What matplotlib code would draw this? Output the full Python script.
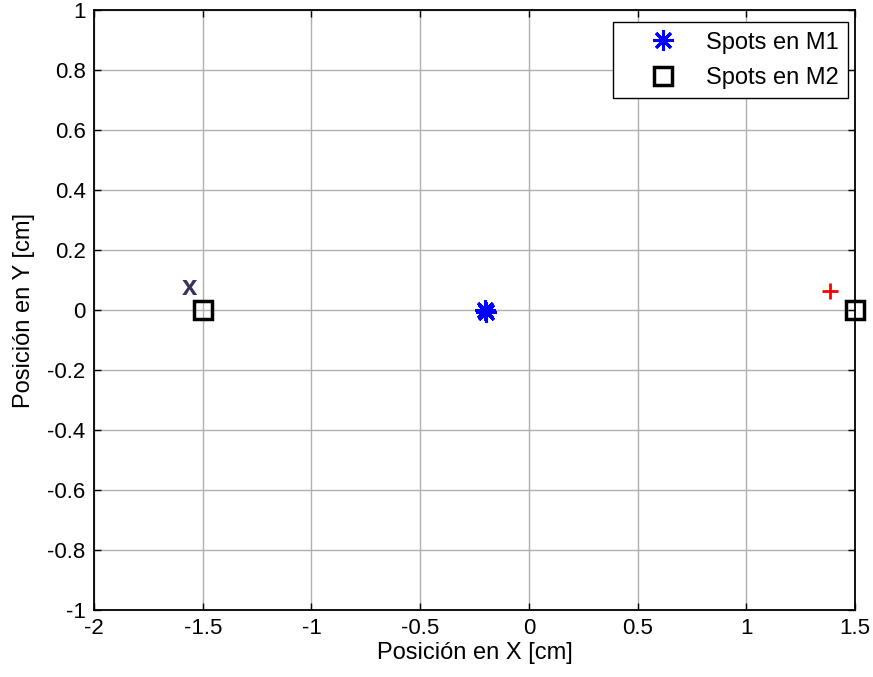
import matplotlib
matplotlib.use("Agg")
import matplotlib.pyplot as plt

plt.rcParams['font.family'] = ['Liberation Sans', 'DejaVu Sans']

m1_x = [-0.20, -0.195]
m1_y = [0.00, -0.006]
m2_x = [-1.5, 1.5]
m2_y = [0.0, 0.0]
plus_x = [1.385]
plus_y = [0.062]
xmark_x = -1.563
xmark_y = 0.072

fig = plt.figure(figsize=(8.73, 6.77), dpi=100)
ax = fig.add_axes([0.1077, 0.099, 0.8717, 0.886])

ax.plot(m1_x, m1_y, linestyle='none', marker=(8, 2, 0), markersize=15,
        color='#0000FF', markeredgewidth=2.2, label='Spots en M1', zorder=5)
ax.plot(m2_x, m2_y, linestyle='none', marker='s', markersize=13,
        markerfacecolor='none', markeredgecolor='black', markeredgewidth=2.5,
        label='Spots en M2', clip_on=False, zorder=5)
ax.plot(plus_x, plus_y, linestyle='none', marker='+', markersize=12,
        color='#FF0000', markeredgewidth=2, zorder=5)
ax.text(xmark_x, xmark_y, 'x', color='#3F3060', fontsize=20, fontweight='bold',
        ha='center', va='center')

ax.set_xlim(-2, 1.5)
ax.set_ylim(-1, 1)
ax.set_xticks([-2, -1.5, -1, -0.5, 0, 0.5, 1, 1.5])
ax.set_xticklabels(['-2', '-1.5', '-1', '-0.5', '0', '0.5', '1', '1.5'])
ax.set_yticks([-1, -0.8, -0.6, -0.4, -0.2, 0, 0.2, 0.4, 0.6, 0.8, 1])
ax.set_yticklabels(['-1', '-0.8', '-0.6', '-0.4', '-0.2', '0', '0.2', '0.4', '0.6', '0.8', '1'])
ax.grid(True, color='#B0B0B0', linewidth=1.0, linestyle='-')
ax.set_axisbelow(True)
ax.tick_params(direction='in', length=5, width=1, labelsize=16, top=True, right=True, pad=6)
for s in ax.spines.values():
    s.set_linewidth(1.3)
ax.set_xlabel('Posición en X [cm]', fontsize=17, labelpad=2)
ax.set_ylabel('Posición en Y [cm]', fontsize=17, labelpad=9)

leg = ax.legend(loc='upper right', bbox_to_anchor=(0.9908, 0.98), borderaxespad=0,
                fontsize=17, fancybox=False, edgecolor='black',
                framealpha=1, handletextpad=0.1, handlelength=3.44,
                borderpad=0.4, labelspacing=0.57)
leg.get_frame().set_linewidth(1.0)

fig.savefig('out.png', dpi=100)
